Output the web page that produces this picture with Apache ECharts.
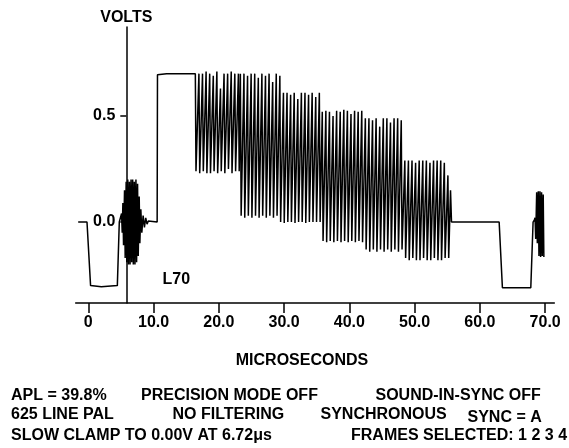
<!DOCTYPE html>
<html>
<head>
<meta charset="utf-8">
<script src="https://cdn.jsdelivr.net/npm/echarts@6/dist/echarts.min.js"></script>
<style>html,body{margin:0;padding:0;background:#fff}#c{width:569px;height:448px}</style>
</head>
<body>
<div id="c"></div>
<script>
// ---- data: time (microseconds), level (volts) ----
var xTicks = [0, 10, 20, 30, 40, 50, 60, 70];
var yTicks = [0, 0.5];

var leadSync = [[-1.55,0.0],[-0.2,0.0],[0.35,-0.3],[2.0,-0.305],[4.45,-0.3],[4.75,0.0],[5.0,0.0]];
var burstA = [[5.1,0.04],[5.2,-0.05],[5.3,0.09],[5.4,-0.11],[5.55,0.15],[5.65,-0.17],[5.8,0.19],[5.9,-0.19],
  [6.05,0.2],[6.15,-0.2],[6.3,0.19],[6.4,-0.2],[6.55,0.2],[6.65,-0.19],[6.8,0.2],[6.9,-0.2],[7.05,0.19],
  [7.15,-0.2],[7.3,0.2],[7.4,-0.19],[7.55,0.18],[7.65,-0.16],[7.8,0.12],[7.9,-0.1],[8.05,0.06],[8.2,-0.05],
  [8.4,0.03],[8.6,-0.025],[8.8,0.02],[9.0,-0.01],[9.2,0.005]];
var whiteBar = [[10.55,0.0],[10.6,0.695],[12.0,0.7],[16.4,0.7]];
var packet1 = [[16.5,0.24],[16.95,0.70],[17.07,0.23],[17.5,0.70],[17.62,0.24],[18.05,0.71],[18.17,0.23],[18.6,0.70],
  [18.72,0.23],[19.15,0.69],[19.27,0.24],[19.7,0.71],[19.82,0.23],[20.25,0.63],[20.37,0.24],[20.8,0.70],[20.92,0.23],
  [21.35,0.70],[21.47,0.25],[21.9,0.71],[22.02,0.23],[22.45,0.70],[22.57,0.24],[23.0,0.70],[23.12,0.24],[23.3,0.70]];
var packet2 = [[23.42,0.03],[23.85,0.70],[23.97,0.02],[24.4,0.69],[24.52,0.03],[24.95,0.70],[25.07,0.02],[25.5,0.70],
  [25.62,0.03],[26.05,0.68],[26.17,0.02],[26.6,0.70],[26.72,0.03],[27.15,0.69],[27.27,0.02],[27.7,0.70],[27.82,0.03],
  [28.25,0.66],[28.37,0.02],[28.8,0.70],[28.92,0.03],[29.35,0.69]];
var packet3 = [[29.47,0.0],[29.9,0.61],[30.02,-0.005],[30.45,0.61],[30.57,0.0],[31.0,0.60],[31.12,0.0],[31.55,0.61],
  [31.67,-0.005],[32.1,0.58],[32.22,0.0],[32.65,0.61],[32.77,0.0],[33.2,0.61],[33.32,-0.005],[33.75,0.60],[33.87,0.0],
  [34.3,0.61],[34.42,0.0],[34.85,0.59],[34.97,0.0],[35.4,0.61],[35.52,0.0]];
var packet4 = [[35.85,0.52],[35.97,-0.09],[36.4,0.525],[36.52,-0.095],[36.95,0.52],[37.07,-0.09],[37.5,0.50],
  [37.62,-0.095],[38.05,0.525],[38.17,-0.09],[38.6,0.52],[38.72,-0.095],[39.15,0.53],[39.27,-0.09],[39.7,0.525],
  [39.82,-0.095],[40.25,0.51],[40.37,-0.09],[40.8,0.525],[40.92,-0.095],[41.35,0.52],[41.47,-0.09],[41.9,0.525],[42.02,-0.095]];
var packet5 = [[42.45,0.49],[42.57,-0.13],[43.0,0.49],[43.12,-0.14],[43.55,0.48],[43.67,-0.13],[44.1,0.49],[44.22,-0.14],
  [44.65,0.45],[44.77,-0.13],[45.2,0.49],[45.32,-0.14],[45.75,0.49],[45.87,-0.13],[46.3,0.47],[46.42,-0.14],[46.85,0.49],
  [46.97,-0.13],[47.4,0.49],[47.52,-0.14],[47.95,0.48],[48.07,-0.13]];
var packet6 = [[48.5,0.29],[48.62,-0.17],[49.05,0.29],[49.17,-0.18],[49.6,0.29],[49.72,-0.17],[50.15,0.28],[50.27,-0.18],
  [50.7,0.29],[50.82,-0.18],[51.25,0.29],[51.37,-0.17],[51.8,0.29],[51.92,-0.18],[52.35,0.28],[52.47,-0.18],[52.9,0.29],
  [53.02,-0.17],[53.45,0.29],[53.57,-0.18],[54.0,0.29],[54.12,-0.18],[54.55,0.28],[54.67,-0.17],[55.1,0.22],[55.22,-0.17],
  [55.5,0.15],[55.65,0.0]];
var trailSync = [[62.95,0.0],[63.45,-0.31],[67.8,-0.31],[68.15,0.0],[68.35,0.01]];
var burstB = [[68.45,0.02],[68.55,-0.08],[68.7,0.14],[68.8,-0.1],[68.95,0.145],[69.05,-0.16],[69.2,0.145],
  [69.3,-0.165],[69.45,0.14],[69.55,-0.16],[69.7,0.13],[69.8,-0.165]];

var waveform = [].concat(leadSync, burstA, whiteBar, packet1, packet2, packet3, packet4, packet5, packet6, trailSync, burstB);

var FONT = 'bold 16px "Liberation Sans", Arial, sans-serif';
function txt(s, x, y, align) {
  return { type: 'text', silent: true,
    style: { text: s, x: x, y: y, font: FONT, fill: '#000', textAlign: align || 'left', textVerticalAlign: 'middle' } };
}

var chart = echarts.init(document.getElementById('c'), null, { renderer: 'canvas' });
chart.setOption({
  animation: false,
  backgroundColor: '#fff',
  grid: { left: 75.7, right: 14.7, top: 27, bottom: 145, containLabel: false, outerBoundsMode: 'none' },
  xAxis: {
    type: 'value', min: -1.93, max: 71.4,
    axisLine: { onZero: false, lineStyle: { color: '#000', width: 1.5 } },
    axisTick: { show: true, length: 10, customValues: xTicks, lineStyle: { color: '#000', width: 1.5 } },
    axisLabel: { customValues: xTicks, margin: 12, color: '#000', fontSize: 16, fontWeight: 'bold',
      fontFamily: '"Liberation Sans", Arial, sans-serif',
      formatter: function (v) { return v === 0 ? '0' : v.toFixed(1); } },
    splitLine: { show: false }
  },
  yAxis: {
    type: 'value', min: -0.382, max: 0.92, offset: -50.6,
    name: 'VOLTS', nameLocation: 'end', nameGap: 1.5,
    nameTextStyle: { color: '#000', fontSize: 16, fontWeight: 'bold', fontFamily: '"Liberation Sans", Arial, sans-serif' },
    axisLine: { show: true, onZero: false, lineStyle: { color: '#000', width: 1.5 } },
    axisTick: { show: true, length: 6, customValues: yTicks, lineStyle: { color: '#000', width: 1.5 } },
    axisLabel: { customValues: yTicks, margin: 11, color: '#000', fontSize: 16, fontWeight: 'bold',
      fontFamily: '"Liberation Sans", Arial, sans-serif',
      formatter: function (v) { return v.toFixed(1); } },
    splitLine: { show: false }
  },
  series: [{
    type: 'line', data: waveform, showSymbol: false, symbol: 'none', clip: false,
    lineStyle: { color: '#000', width: 1.5 }
  }],
  graphic: [
    txt('L70', 162.5, 280),
    txt('MICROSECONDS', 302, 361, 'center'),
    txt('APL = 39.8%', 11, 396),
    txt('PRECISION MODE OFF', 141, 396),
    txt('SOUND-IN-SYNC OFF', 375.5, 396),
    txt('625 LINE PAL', 11, 415),
    txt('NO FILTERING', 172.5, 415),
    txt('SYNCHRONOUS', 320.5, 415),
    txt('SYNC = A', 467.5, 418),
    txt('SLOW CLAMP TO 0.00V AT 6.72\u03bcs', 11, 436),
    txt('FRAMES SELECTED: 1 2 3 4', 351, 436)
  ]
});
</script>
</body>
</html>
